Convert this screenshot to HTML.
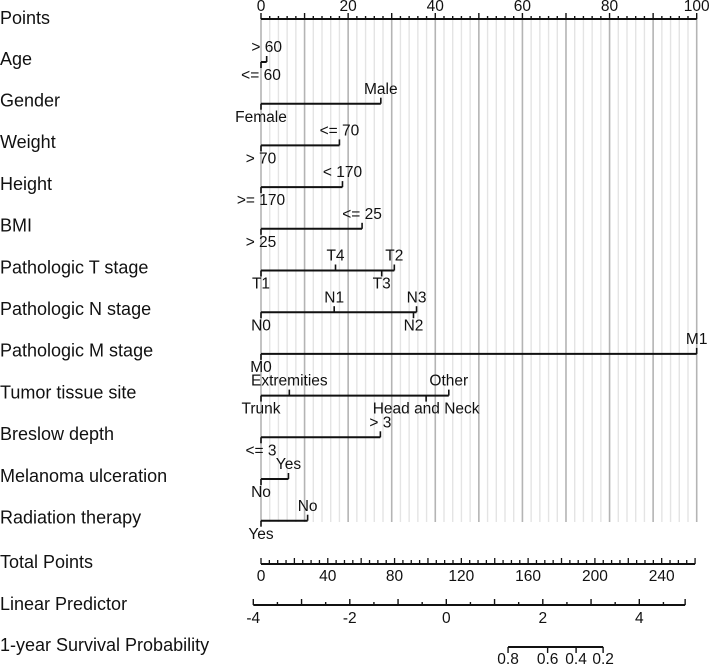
<!DOCTYPE html>
<html><head><meta charset="utf-8"><style>
html,body{margin:0;padding:0;background:#fff}
svg{display:block;font-family:"Liberation Sans",Arial,sans-serif}
</style></head><body>
<svg id="c" width="709" height="667" xmlns="http://www.w3.org/2000/svg"></svg>
<script>
const varNames=["Age","Gender","Weight","Height","BMI","Pathologic T stage","Pathologic N stage","Pathologic M stage","Tumor tissue site","Breslow depth","Melanoma ulceration","Radiation therapy"];
const levelLabels=[["<= 60","> 60"],["Female","Male"],["> 70","<= 70"],[">= 170","< 170"],["> 25","<= 25"],["T1","T4","T3","T2"],["N0","N1","N2","N3"],["M0","M1"],["Trunk","Extremities","Head and Neck","Other"],["<= 3","> 3"],["No","Yes"],["Yes","No"]];
const levelPoints=[[0,1.3],[0,27.5],[0,18.0],[0,18.7],[0,23.2],[0,17.1,27.7,30.6],[0,16.8,35.0,35.7],[0,100],[0,6.5,37.9,43.1],[0,27.4],[0,6.3],[0,10.7]];
const levelSide=[[-1,1],[-1,1],[-1,1],[-1,1],[-1,1],[-1,1,-1,1],[-1,1,-1,1],[-1,1],[-1,1,-1,1],[-1,1],[-1,1],[-1,1]];
const pointTicks=[0,20,40,60,80,100];
const totalTicks=[0,40,80,120,160,200,240];
const lpTicks=[-4,-2,0,2,4];
const survTicks=[0.8,0.6,0.4,0.2];
const survLP=[1.28,2.10,2.69,3.25];

const svg=document.getElementById('c');
const NS="http://www.w3.org/2000/svg";
function mk(t,a,p){const e=document.createElementNS(NS,t);for(const k in a)e.setAttribute(k,a[k]);(p||svg).appendChild(e);return e;}
function txt(x,y,s,anchor,size,name){const e=mk('text',{x:x,y:y,'font-size':size,'text-anchor':anchor,fill:'#111','dominant-baseline':'middle'});e.textContent=s;


return e;}
const xP=p=>261+p*4.357;
const xT=t=>261+t*1.6695;
const xL=l=>446.3+l*48.25;
const rowY=i=>62+i*41.7;
const LF=18, TF=15.5;

for(let p=0;p<=100;p+=2){const l=mk('line',{x1:xP(p),x2:xP(p),y1:19,y2:522,stroke:p%10==0?'#b4b4b4':'#e4e4e4','stroke-width':p%10==0?1.6:1.4});

}
txt(0,19,"Points","start",LF,"points-label");
let a=mk('line',{x1:xP(0),x2:xP(100),y1:19,y2:19,stroke:'#111','stroke-width':2});


for(let p=0;p<=100;p+=2){mk('line',{x1:xP(p),x2:xP(p),y1:19,y2:p%10==0?13:16,stroke:'#111','stroke-width':1.4});}
pointTicks.forEach(p=>txt(xP(p),7,String(p),"middle",TF,"points-tick-label"));

varNames.forEach((n,i)=>{
 const y=rowY(i);
 txt(0,y-2,n,"start",LF,"variable-label");
 const pts=levelPoints[i];const mx=Math.max(...pts);
 const l=mk('line',{x1:xP(0),x2:xP(mx),y1:y,y2:y,stroke:'#111','stroke-width':2});
 
 
 pts.forEach((p,j)=>{const s=levelSide[i][j];
  mk('line',{x1:xP(p),x2:xP(p),y1:y,y2:y-s*6,stroke:'#111','stroke-width':1.6});
  txt(xP(p),y-s*14,levelLabels[i][j],"middle",TF,"level-label");});
});

let ty=564;
txt(0,563,"Total Points","start",LF,"total-points-label");
a=mk('line',{x1:xT(0),x2:xT(260),y1:ty,y2:ty,stroke:'#111','stroke-width':2});


for(let t=0;t<=260;t+=5)mk('line',{x1:xT(t),x2:xT(t),y1:ty,y2:ty-(t%20==0?6:4),stroke:'#111','stroke-width':1.3});
totalTicks.forEach(t=>txt(xT(t),577,String(t),"middle",TF,"total-tick-label"));

let ly=605;
txt(0,605,"Linear Predictor","start",LF,"linear-predictor-label");
a=mk('line',{x1:xL(-4),x2:xL(4.95),y1:ly,y2:ly,stroke:'#111','stroke-width':2});


for(let v=-4;v<=4.6;v+=0.5)mk('line',{x1:xL(v),x2:xL(v),y1:ly,y2:ly+(Number.isInteger(v)?-6:-3),stroke:'#111','stroke-width':1.4});
mk('line',{x1:xL(4.95),x2:xL(4.95),y1:ly,y2:ly-6,stroke:'#111','stroke-width':1.4});
lpTicks.forEach(v=>txt(xL(v),619,String(v),"middle",TF,"lp-tick-label"));

let sy=647;
txt(0,646,"1-year Survival Probability","start",LF,"survival-label");
a=mk('line',{x1:xL(survLP[0]),x2:xL(survLP[survLP.length-1]),y1:sy,y2:sy,stroke:'#111','stroke-width':2});


survTicks.forEach((s,i)=>{mk('line',{x1:xL(survLP[i]),x2:xL(survLP[i]),y1:sy,y2:sy+6,stroke:'#111','stroke-width':1.4});
 txt(xL(survLP[i]),660,String(s),"middle",TF,"survival-tick-label");});
</script>
</body></html>
